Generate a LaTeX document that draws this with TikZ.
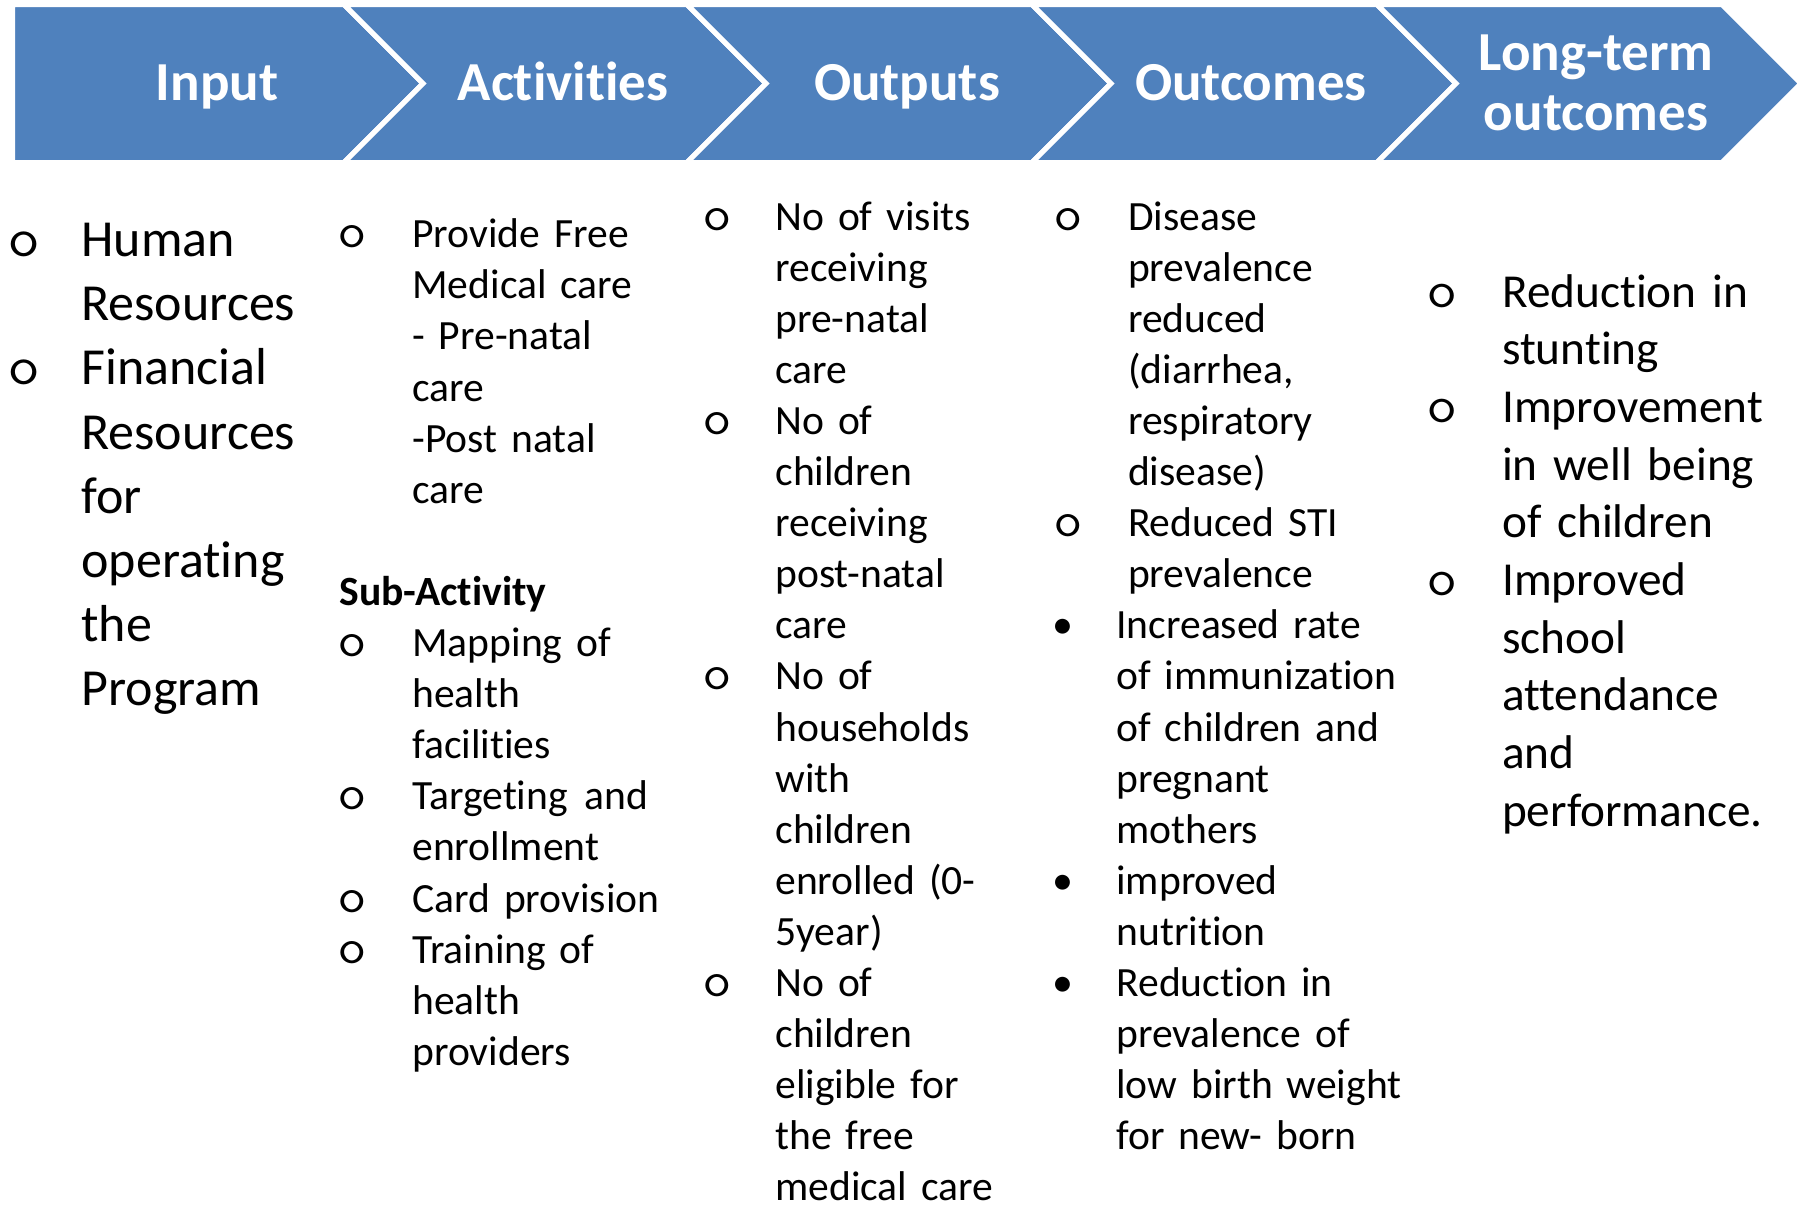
\documentclass[tikz,border=0pt]{standalone}
\usepackage{fontspec}
\setmainfont[Ligatures=NoCommon]{Carlito}
\usetikzlibrary{positioning}
\definecolor{chevblue}{HTML}{4F81BD}
\newcommand{\bulo}{\scalebox{1.15}[1]{o}}
\tikzset{
  chev/.style={
    fill = chevblue,
    draw = white,
    line width = 2.5pt,
    line join = miter
  },
  hdr/.style={
    text = white,
    font = \bfseries\fontsize{27.5}{30}\selectfont,
    inner sep = 0pt,
    anchor = base
  },
}
\tikzset{
  bodyL/.style={
    font = \fontsize{26}{32.05}\selectfont,
    text width = 160pt, align = left,
    inner sep = 0pt, anchor = base west
  },
  bodyM/.style={
    font = \fontsize{23.65}{28.85}\selectfont,
    text width = 160pt, align = left,
    inner sep = 0pt, anchor = base west
  },
  bodyS/.style={
    font = \fontsize{20.8}{25.55}\selectfont,
    text width = 160pt, align = left,
    inner sep = 0pt, anchor = base west
  },
  obul/.style={
    font = \ttfamily\fontsize{#1}{#1}\selectfont,
    inner sep = 0pt,
    anchor = base
  },
  fbul/.style={
    font = \fontsize{21}{21}\selectfont,
    inner sep = 0pt,
    anchor = base
  }
}

\begin{document}
\begin{tikzpicture}[x=0.5pt, y=-0.5pt]
    \useasboundingbox (0,0) rectangle (1808,1205);
    \def\ctop{4.5}
    \def\cbot{162.5}
    \def\cmid{83.5}
    \def\cdep{79}
    % chevron bar
    \draw[chev] (12.5,\ctop) -- (344,\ctop) -- (344+\cdep,\cmid) -- (344,\cbot) -- (12.5,\cbot) -- cycle;
    \foreach \xa/\xb in {344/687, 687/1032, 1032/1377, 1377/1722} {
      \draw[chev] (\xa,\ctop) -- (\xb,\ctop) -- (\xb+\cdep,\cmid) -- (\xb,\cbot) -- (\xa,\cbot) -- (\xa+\cdep,\cmid) -- cycle;
    }
    \node[hdr] (input) at (217,100) {Input};
    \node[hdr] (activities) at (563,100) {Activities};
    \node[hdr] (outputs) at (907,100) {Outputs};
    \node[hdr] (outcomes) at (1251,100) {Outcomes};
    \node[hdr, text width=150pt, align=center] (longterm) at (1596,70) {Long-term\\outcomes};
    % input
    \node[obul=28] (b11) at (24,256.7) {\bulo};
    \node[bodyL] (human) at (81,256.7) {Human\\Resources};
    \node[obul=28] (b12) at (24,384.9) {\bulo};
    \node[bodyL] (financial) at (81,384.9) {Financial\\Resources\\for\\operating\\the\\Program};
    % activities
    \node[obul=25] (b21) at (352,247.7) {\bulo};
    \node[bodyS] (freecare) at (412,247.7) {Provide Free\\Medical care\\- Pre-natal\\care\\-Post natal\\care};
    \node[bodyS] (subact) at (339,605.4) {\textbf{Sub-Activity}};
    \node[obul=25] (b22) at (352,656.5) {\bulo};
    \node[bodyS] (mapping) at (412,656.5) {Mapping of\\health\\facilities};
    \node[obul=25] (b23) at (352,809.8) {\bulo};
    \node[bodyS] (targeting) at (412,809.8) {Targeting\hspace{0.4em}and\\enrollment};
    \node[obul=25] (b24) at (352,912.0) {\bulo};
    \node[bodyS] (card) at (412,912.0) {Card provision};
    \node[obul=25] (b25) at (352,963.1) {\bulo};
    \node[bodyS] (training) at (412,963.1) {Training of\\health\\providers};
    % outputs
    \node[obul=25] (b31) at (717.5,230) {\bulo};
    \node[bodyS] (visits) at (775,230) {No of visits\\receiving\\pre-natal\\care};
    \node[obul=25] (b32) at (717.5,434.4) {\bulo};
    \node[bodyS] (postnatal) at (775,434.4) {No of\\children\\receiving\\post-natal\\care};
    \node[obul=25] (b33) at (717.5,689.9) {\bulo};
    \node[bodyS] (households) at (775,689.9) {No of\\households\\with\\children\\enrolled (0-\\5year)};
    \node[obul=25] (b34) at (717.5,996.5) {\bulo};
    \node[bodyS] (eligible) at (775,996.5) {No of\\children\\eligible for\\the free\\medical care};
    % outcomes
    \node[obul=25] (b41) at (1067.8,230) {\bulo};
    \node[bodyS] (disease) at (1127.7,230) {Disease\\prevalence\\reduced\\(diarrhea,\\respiratory\\disease)};
    \node[obul=25] (b42) at (1067.8,536.6) {\bulo};
    \node[bodyS] (sti) at (1127.7,536.6) {Reduced STI\\prevalence};
    \node[fbul] (b43) at (1063,638.8) {\textbullet};
    \node[bodyS] (immun) at (1116,638.8) {Increased rate\\of immunization\\of children and\\pregnant\\mothers};
    \node[fbul] (b44) at (1063,894.3) {\textbullet};
    \node[bodyS] (nutrition) at (1116,894.3) {improved\\nutrition};
    \node[fbul] (b45) at (1063,996.5) {\textbullet};
    \node[bodyS] (birthweight) at (1116,996.5) {Reduction in\\prevalence of\\low birth weight\\for new- born};
    % long-term outcomes
    \node[obul=26.5] (b51) at (1442,307) {\bulo};
    \node[bodyM] (stunting) at (1501.7,307) {Reduction in\\stunting};
    \node[obul=26.5] (b52) at (1442,422.4) {\bulo};
    \node[bodyM] (wellbeing) at (1501.7,422.4) {Improvement\\in well being\\of children};
    \node[obul=26.5] (b53) at (1442,595.5) {\bulo};
    \node[bodyM] (school) at (1501.7,595.5) {Improved\\school\\attendance\\and\\performance.};
\end{tikzpicture}
\end{document}
